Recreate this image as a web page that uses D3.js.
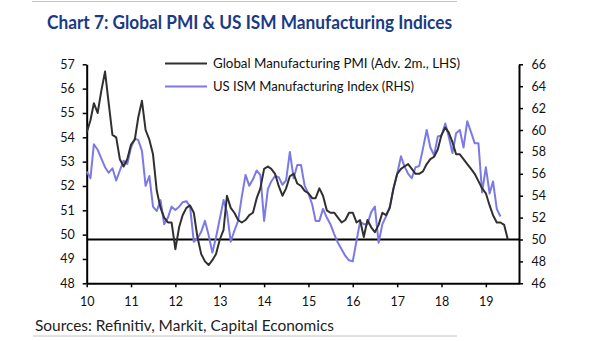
<!DOCTYPE html>
<html>
<head>
<meta charset="utf-8">
<script src="https://cdn.jsdelivr.net/npm/d3@7"></script>
<style>
  body { margin: 0; background: #fff; }
  svg { display: block; font-family: Lato, 'Open Sans', sans-serif; }
</style>
</head>
<body>
<svg id="chart" width="605" height="341"></svg>
<script>
// year labels on the x axis (2010 - 2019)
const yearLabels = ['10', '11', '12', '13', '14', '15', '16', '17', '18', '19']

// Global manufacturing PMI, advanced 2 months, monthly from Jan 2010 (LHS)
const globalPmi = [
  54.2, 54.7, 55.4, 55.0, 55.9, 56.7, 55.4, 54.1, 54.0, 53.1, 52.8, 53.1,
  53.7, 53.9, 54.8, 55.5, 54.3, 53.9, 53.3, 51.8, 51.1, 50.7, 50.5, 50.5,
  49.4, 50.3, 50.8, 51.1, 51.2, 50.9, 49.9, 49.2, 48.9, 48.75, 48.95, 49.2,
  49.8, 50.2, 51.6, 51.1, 50.9, 50.6, 50.5, 50.6, 50.8, 50.9, 51.5, 51.9,
  52.7, 52.8, 52.7, 52.5, 52.0, 51.6, 51.9, 52.4, 52.5, 52.1, 52.0, 51.8,
  51.7, 51.5, 51.5, 51.9, 51.6, 51.0, 50.9, 50.9, 50.7, 50.5, 50.6, 50.9,
  50.9, 50.5, 50.6, 49.9, 50.6, 50.3, 50.1, 50.4, 50.9, 50.8, 51.1, 51.9,
  52.5, 52.7, 52.8, 52.9, 52.7, 52.5, 52.5, 52.6, 52.9, 53.1, 53.2, 53.5,
  54.1, 54.4, 54.2, 53.8, 53.3, 53.3, 53.1, 52.9, 52.7, 52.5, 52.2, 51.9,
  51.7, 51.2, 50.8, 50.5, 50.5, 50.4, 49.8
]

// US ISM manufacturing index, monthly from Jan 2010 (RHS)
const ismIndex = [
  56.2, 55.6, 58.7, 58.2, 57.4, 56.6, 56.1, 56.5, 55.4, 56.3, 57.2, 56.9,
  58.4, 59.2, 59.1, 58.1, 54.9, 55.8, 53.0, 52.6, 53.6, 51.4, 52.0, 53.0,
  52.7, 53.0, 53.4, 53.5, 53.0, 49.8, 50.1, 50.7, 51.7, 50.4, 48.8, 50.2,
  51.9, 53.6, 52.5, 49.8, 50.8, 51.7, 53.9, 55.9, 54.9, 55.5, 56.3, 55.9,
  51.7, 54.6, 55.3, 55.8, 55.7, 55.0, 55.4, 58.0, 55.6, 56.8, 56.8, 54.9,
  54.2, 53.2, 51.7, 51.7, 52.8, 52.0, 51.4, 50.5, 49.7, 49.1, 48.5, 48.1,
  48.0, 49.9, 51.6, 51.4, 51.4, 52.5, 53.0, 49.7, 51.4, 52.1, 53.0, 54.6,
  56.0, 57.6, 56.7, 56.0, 55.6, 56.6, 56.7, 58.3, 60.0, 58.4, 57.7, 59.4,
  59.5, 60.6, 59.4, 57.9, 59.7, 60.0, 58.4, 60.8, 59.8, 58.8, 58.8, 54.3,
  56.6, 54.2, 55.3, 52.8, 52.1
]

const leftTicks = [48, 49, 50, 51, 52, 53, 54, 55, 56, 57]
const rightTicks = [46, 48, 50, 52, 54, 56, 58, 60, 62, 64, 66]
const seriesNames = ['Global Manufacturing PMI (Adv. 2m., LHS)', 'US ISM Manufacturing Index (RHS)']

const startDate = new Date(2010, 0, 1)
const endDate = new Date(2019, 9, 1)

const plot = { left: 86.7, right: 519, top: 64.3, bottom: 283.3 }
const pmiColour = '#303030'
const ismColour = '#7b79e6'

const svg = d3.select('#chart')

const x = d3.scaleTime().domain([startDate, endDate]).range([plot.left, plot.right])
const yLeft = d3.scaleLinear().domain([48, 57]).range([plot.bottom, plot.top])
const yRight = d3.scaleLinear().domain([46, 66]).range([plot.bottom, plot.top])

const monthOf = i => d3.timeMonth.offset(startDate, i)

// grey rules top and bottom
svg.append('line')
  .attr('x1', 32).attr('x2', 457).attr('y1', 1.5).attr('y2', 1.5)
  .style('stroke', '#c4c4c4').style('stroke-width', 1)
svg.append('line')
  .attr('x1', 33).attr('x2', 457).attr('y1', 336).attr('y2', 336)
  .style('stroke', '#c4c4c4').style('stroke-width', 1)

// title
svg.append('text')
  .attr('x', 47).attr('y', 28.5)
  .attr('textLength', 405).attr('lengthAdjust', 'spacingAndGlyphs')
  .style('font-size', '19.5px').style('font-weight', 'bold')
  .style('fill', '#1b3a86')
  .text('Chart 7: Global PMI & US ISM Manufacturing Indices')

// source note
svg.append('text')
  .attr('x', 35).attr('y', 330.5)
  .attr('textLength', 299).attr('lengthAdjust', 'spacingAndGlyphs')
  .style('font-size', '15px').style('fill', '#222')
  .text('Sources: Refinitiv, Markit, Capital Economics')

// axes
const leftAxis = d3.axisLeft(yLeft).tickValues(leftTicks).tickSize(4).tickSizeOuter(0).tickPadding(8)
const rightAxis = d3.axisRight(yRight).tickValues(rightTicks).tickSize(4).tickSizeOuter(0).tickPadding(8.5)
const bottomAxis = d3.axisBottom(x)
  .tickValues(yearLabels.map((d, i) => new Date(2010 + i, 0, 1)))
  .tickFormat((d, i) => yearLabels[i])
  .tickSize(4).tickSizeOuter(0).tickPadding(9.5)

const gLeft = svg.append('g').attr('transform', `translate(${plot.left},0)`).call(leftAxis)
const gRight = svg.append('g').attr('transform', `translate(${plot.right},0)`).call(rightAxis)
const gBottom = svg.append('g').attr('transform', `translate(0,${plot.bottom})`).call(bottomAxis)

for (const g of [gLeft, gRight, gBottom]) {
  g.select('.domain').style('stroke', '#000').style('stroke-width', 2)
  g.selectAll('.tick line').style('stroke', '#000').style('stroke-width', 1.5)
  g.selectAll('.tick text')
    .style('font-family', 'Lato, sans-serif').style('font-size', '12.5px').style('fill', '#111')
}

// 50 line (RHS)
svg.append('line')
  .attr('x1', plot.left).attr('x2', plot.right)
  .attr('y1', yRight(50)).attr('y2', yRight(50))
  .style('stroke', '#000').style('stroke-width', 2)

// series lines
const pmiLine = d3.line().x((d, i) => x(monthOf(i))).y(d => yLeft(d))
const ismLine = d3.line().x((d, i) => x(monthOf(i))).y(d => yRight(d))

svg.append('path').datum(ismIndex)
  .attr('d', ismLine)
  .style('fill', 'none').style('stroke', ismColour).style('stroke-width', 2)
  .style('stroke-linejoin', 'round')

svg.append('path').datum(globalPmi)
  .attr('d', pmiLine)
  .style('fill', 'none').style('stroke', pmiColour).style('stroke-width', 2)
  .style('stroke-linejoin', 'round')

// legend
const legend = svg.append('g').attr('class', 'legend')
const legendRows = [
  { name: seriesNames[0], colour: pmiColour, y: 63.5, width: 247 },
  { name: seriesNames[1], colour: ismColour, y: 86.5, width: 201 }
]
legendRows.forEach(row => {
  legend.append('line')
    .attr('x1', 165).attr('x2', 207).attr('y1', row.y).attr('y2', row.y)
    .style('stroke', row.colour).style('stroke-width', 2)
  legend.append('text')
    .attr('x', 213).attr('y', row.y + 4.8)
    .attr('textLength', row.width).attr('lengthAdjust', 'spacingAndGlyphs')
    .style('font-size', '13.5px').style('fill', '#111')
    .text(row.name)
})
</script>
</body>
</html>
